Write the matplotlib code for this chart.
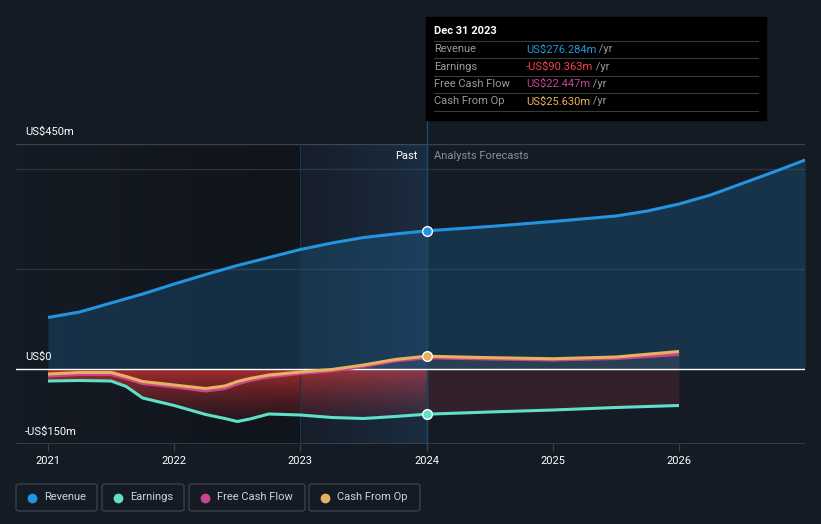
import numpy as np
import matplotlib.pyplot as plt
from matplotlib.patches import FancyBboxPatch, Rectangle
from matplotlib.lines import Line2D

plt.rcParams['font.family'] = ['Roboto', 'DejaVu Sans']

# data (US$ m)
rev_x = [2021.0, 2021.25, 2021.5, 2021.75, 2022.0, 2022.25, 2022.5, 2022.75, 2023.0,
         2023.25, 2023.5, 2023.75, 2024.0, 2024.5, 2025.0, 2025.5, 2025.75, 2026.0,
         2026.25, 2026.5, 2026.75, 2027.0]
rev_y = [103, 114, 132, 150, 170, 189, 207, 223, 239,
         252, 263, 270, 276.3, 285, 295, 306, 316, 330,
         348, 371, 394, 418]

past_x = [2021.0, 2021.25, 2021.5, 2021.62, 2021.75, 2022.0, 2022.25, 2022.4, 2022.5,
          2022.6, 2022.75, 2023.0, 2023.25, 2023.5, 2023.75, 2024.0]
earn_past = [-24, -23, -24, -35, -58, -73, -91, -99, -105, -100, -90, -92, -97, -99, -95, -90.4]
cfo_past = [-10, -7, -7, -15, -25, -32, -39, -34, -25, -19, -12, -6, -1, 8, 19, 25.6]
fcf_past = [-14, -11, -11, -19, -29, -36, -44, -39, -30, -23, -16, -9, -4, 5, 16, 22.4]

fc_x = [2024.0, 2024.5, 2025.0, 2025.5, 2026.0]
earn_fc = [-90.4, -86, -82, -77, -73]
cfo_fc = [25.6, 22.7, 20.5, 24, 35]
fcf_fc = [22.4, 20, 18, 21, 29]

years = [2021, 2022, 2023, 2024, 2025, 2026]

BG = '#151b24'
C_REV = '#2394df'
C_EARN = '#5fe0c8'
C_FCF = '#c7468b'
C_CFO = '#e8b15f'

W, H = 821, 524
fig = plt.figure(figsize=(W / 100, H / 100), dpi=100, facecolor=BG)
x0, x1 = 16, 805
y_top, y_bot = 144, 444
ax = fig.add_axes([x0 / W, 1 - y_bot / H, (x1 - x0) / W, (y_bot - y_top) / H])
ax.set_facecolor(BG)
xmin = 2021 - 32 / 126.2
xmax = 2021 + (x1 - 48) / 126.2
ax.set_xlim(xmin, xmax)
ax.set_ylim(-150, 450)
for s in ax.spines.values():
    s.set_visible(False)
ax.set_yticks([])

# left part gets darker towards 2023
grad = np.linspace(0, 1, 256).reshape(1, -1)
ax.imshow(np.dstack([np.full_like(grad, 0.04), np.full_like(grad, 0.05), np.full_like(grad, 0.07),
                     0.45 * grad]),
          extent=[xmin, 2023, -150, 450], aspect='auto', zorder=0)

# grid lines
for v in [200, 400]:
    ax.axhline(v, color='#2c333d', lw=0.9, zorder=1)
ax.axhline(450, color='#3a414b', lw=1, zorder=1)
ax.axhline(-150, color='#3a414b', lw=1.2, zorder=1)

# fills
ax.fill_between(rev_x, 0, rev_y, color=C_REV, alpha=0.2, lw=0, zorder=2)

# red gradient under zero (past)
poly = ax.fill_between(past_x, 0, earn_past, color='none', lw=0, zorder=2)
vg = np.linspace(1, 0, 256).reshape(-1, 1)
red = np.dstack([0.45 + 0.33 * vg, 0.12 + 0.08 * vg, 0.15 + 0.05 * vg, 0.2 + 0.6 * vg])
im = ax.imshow(red, extent=[2021, 2024, -106, 0], aspect='auto', zorder=2)
im.set_clip_path(poly.get_paths()[0], transform=ax.transData)

ax.fill_between(fc_x, 0, earn_fc, color='#6a2a3a', alpha=0.35, lw=0, zorder=2)
ax.fill_between(fc_x, 0, cfo_fc, color='#8a8a9a', alpha=0.15, lw=0, zorder=2)
ax.fill_between(past_x, 0, np.maximum(cfo_past, 0), color='#8a8a9a', alpha=0.15, lw=0, zorder=2)

# past highlight
ax.imshow(np.dstack([np.full_like(grad, 0.2), np.full_like(grad, 0.45), np.full_like(grad, 0.7),
                     0.04 + 0.16 * grad]),
          extent=[2023, 2024, -150, 450], aspect='auto', zorder=3)
ax.axvline(2023, color='#1f3346', lw=0.8, zorder=3)
ax.plot([2024, 2024], [-150, 500], color='#1f4a6a', lw=1, zorder=3, clip_on=False)

ax.axhline(0, color='white', lw=1, zorder=4)

# lines
kw = dict(lw=2.2, solid_capstyle='butt', solid_joinstyle='round')
ax.plot(rev_x, rev_y, color=C_REV, zorder=6, **kw)
ax.plot(past_x, earn_past, color=C_EARN, zorder=6, **kw)
ax.plot(fc_x, earn_fc, color=C_EARN, zorder=6, **kw)
ax.plot(past_x, fcf_past, color=C_FCF, zorder=6, **kw)
ax.plot(fc_x, fcf_fc, color=C_FCF, zorder=6, **kw)
ax.plot(past_x, cfo_past, color=C_CFO, zorder=7, **kw)
ax.plot(fc_x, cfo_fc, color=C_CFO, zorder=7, **kw)

for val, c in [(rev_y[12], C_REV), (earn_past[-1], C_EARN), (cfo_past[-1], C_CFO)]:
    ax.plot(2024, val, 'o', ms=7, mfc=c, mec='white', mew=1, zorder=8)

# x axis
ax.set_xticks(years)
ax.set_xticklabels([str(y) for y in years])
ax.tick_params(axis='x', colors='#3a414b', length=5, width=1, labelcolor='white',
               labelsize=8, pad=4)

# y labels
for v, lab in [(450, 'US$450m'), (0, 'US$0'), (-150, '-US$150m')]:
    fig.text(25 / W, 1 - (369 - v / 2 - 12) / H, lab, color='white', fontsize=8,
             va='center', ha='left')

fig.text(417 / W, 1 - 156 / H, 'Past', color='white', fontsize=8, ha='right', va='center')
fig.text(434 / W, 1 - 156 / H, 'Analysts Forecasts', color='#8a9099', fontsize=8,
         ha='left', va='center')

# tooltip
fig.patches.append(Rectangle((426 / W, 1 - 120 / H), 340 / W, 103 / H,
                             transform=fig.transFigure, color='black', zorder=10))
fig.text(434 / W, 1 - 31 / H, 'Dec 31 2023', color='white', fontsize=8, fontweight='bold',
         va='center', zorder=11)
for yy in [41, 58, 75.5, 93, 110.5]:
    fig.lines.append(Line2D([434 / W, 758 / W], [1 - yy / H] * 2, transform=fig.transFigure,
                            color='#3a3a3a', lw=0.8, zorder=11))
rows = [('Revenue', 'US$276.284m', C_REV),
        ('Earnings', '-US$90.363m', '#f0444a'),
        ('Free Cash Flow', 'US$22.447m', C_FCF),
        ('Cash From Op', 'US$25.630m', C_CFO)]
for i, (lab, val, c) in enumerate(rows):
    yy = 1 - (49.5 + i * 17.3) / H
    fig.text(434 / W, yy, lab, color='#9a9a9a', fontsize=8, va='center', zorder=11)
    t = fig.text(526 / W, yy, val, color=c, fontsize=8, va='center', zorder=11)
    fig.add_artist(plt.Annotation(' /yr', xy=(1, 0.5), xycoords=t, va='center',
                                  color='#9a9a9a', fontsize=8, zorder=11))

# legend
items = [('Revenue', C_REV, 16, 97), ('Earnings', C_EARN, 102, 184),
         ('Free Cash Flow', C_FCF, 189, 305), ('Cash From Op', C_CFO, 309, 420)]
for lab, c, bx0, bx1 in items:
    fig.patches.append(FancyBboxPatch((bx0 / W, 1 - 511 / H), (bx1 - bx0) / W, 27 / H,
                                      boxstyle='round,pad=0,rounding_size=0.004',
                                      transform=fig.transFigure, fc=BG, ec='#3a414b', lw=1))
    fig.lines.append(Line2D([(bx0 + 16) / W], [1 - 497.5 / H], marker='o', ms=6, color=c,
                            transform=fig.transFigure))
    fig.text((bx0 + 28) / W, 1 - 497.5 / H, lab, color='#d0d3d8', fontsize=8, va='center')

fig.savefig('out.png', dpi=100, facecolor=BG)
